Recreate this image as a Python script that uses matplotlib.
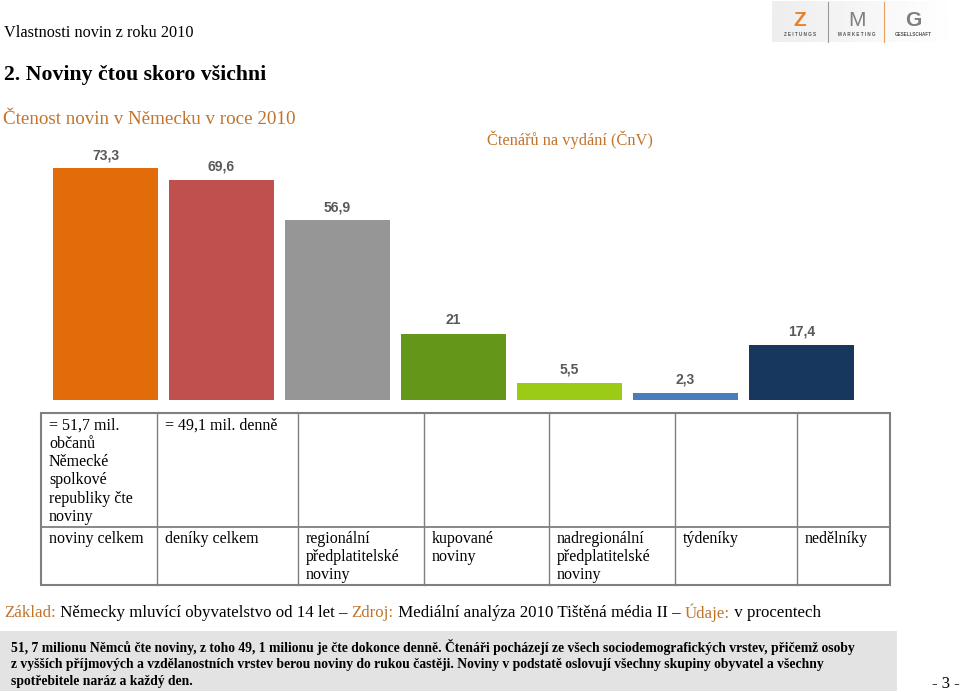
"""Čtenost novin v Německu 2010 (ZMG slide) recreated with matplotlib."""

import matplotlib

matplotlib.use("Agg")
import matplotlib.pyplot as plt
import numpy as np
from matplotlib.patches import Rectangle

# data
categories = [
    "noviny celkem",
    "deníky celkem",
    "regionální\npředplatitelské\nnoviny",
    "kupované\nnoviny",
    "nadregionální\npředplatitelské\nnoviny",
    "týdeníky",
    "nedělníky",
]
values = [73.3, 69.6, 56.9, 21.0, 5.5, 2.3, 17.4]
value_labels = ["73,3", "69,6", "56,9", "21", "5,5", "2,3", "17,4"]
bar_colors = ["#E36C0A", "#C0504D", "#969696", "#64961A", "#9BCB17", "#4A7EBB", "#17375E"]
top_row = [
    "= 51,7 mil.\nobčanů\nNěmecké\nspolkové\nrepubliky čte\nnoviny",
    "= 49,1 mil. denně",
    "", "", "", "", "",
]
col_edges = [41, 157, 298, 424, 549, 675, 797, 890]

ORANGE = "#C0742C"
SERIF = ["Liberation Serif", "DejaVu Serif"]
SANS = ["Liberation Sans", "DejaVu Sans"]

W, H = 960, 692
fig = plt.figure(figsize=(W / 100, H / 100), dpi=100)
ax = fig.add_axes([0, 0, 1, 1])
ax.set_xlim(0, W)
ax.set_ylim(H, 0)
ax.axis("off")


def px_axes(left, top, right, bottom):
    return fig.add_axes([left / W, 1 - bottom / H, (right - left) / W, (bottom - top) / H])


# header
ax.text(4, 33, "Vlastnosti novin z roku 2010", family=SERIF, fontsize=11.7, va="center")
ax.text(4, 75, "2. Noviny čtou skoro všichni", family=SERIF, fontsize=15.7, weight="bold", va="center")
ax.text(3, 120, "Čtenost novin v Německu v roce 2010", family=SERIF, fontsize=13.7,
        color=ORANGE, va="center")
ax.text(487, 140, "Čtenářů na vydání (ČnV)", family=SERIF, fontsize=11.8, color=ORANGE, va="center")

# logo
grad = np.linspace(0.93, 1.0, 100).reshape(1, -1)
ax.imshow(grad, cmap="gray", vmin=0, vmax=1, extent=(772, 958, 42, 1), aspect="auto", zorder=0)
ax.text(800, 20, "Z", family=SANS, fontsize=15, weight="bold", color="#E8812A", ha="center", va="center")
ax.text(857, 20, "M", family=SANS, fontsize=15, color="#7F7F7F", ha="center", va="center")
ax.text(913, 20, "G", family=SANS, fontsize=15, weight="bold", color="#7F7F7F", ha="center", va="center")
for lx, lab in [(800, "Z E I T U N G S"), (857, "M A R K E T I N G"), (913, "GESELLSCHAFT")]:
    ax.text(lx, 35, lab, family=SANS, fontsize=3.3, weight="bold", color="#555555", ha="center", va="center")
ax.plot([828, 828], [2, 42], color="#9A9A9A", lw=0.8)
ax.plot([884, 884], [2, 42], color="#E8A060", lw=0.8)

# bars
bax = px_axes(41, 160, 866, 400)
x = np.arange(len(values))
bax.bar(x, values, width=0.91, color=bar_colors)
bax.set_xlim(-0.556, 6.556)
bax.set_ylim(0, 240 / 3.16)
bax.axis("off")
for xi, v, lab in zip(x, values, value_labels):
    bax.annotate(lab, (xi, v), xytext=(0, 9.5), textcoords="offset points", ha="center",
                 va="center", family=SANS, fontsize=10, weight="bold", color="#595959")

# table
t_top, t_mid, t_bot = 413, 527, 585
lc = "#7F7F7F"
ax.add_patch(Rectangle((col_edges[0], t_top), col_edges[-1] - col_edges[0], t_bot - t_top,
                       fill=False, ec=lc, lw=1.5))
ax.plot([col_edges[0], col_edges[-1]], [t_mid, t_mid], color=lc, lw=1.3)
for ce in col_edges[1:-1]:
    ax.plot([ce, ce], [t_top, t_bot], color=lc, lw=1.0)
for i, (top_txt, cat) in enumerate(zip(top_row, categories)):
    cx = col_edges[i] + 8
    if top_txt:
        ax.text(cx, 418, top_txt, family=SERIF, fontsize=11.5, va="top", linespacing=1.18)
    ax.text(cx, 531, cat, family=SERIF, fontsize=11.5, va="top", linespacing=1.18)

# source line with coloured keywords
pieces = [
    ("Základ:", ORANGE), (" Německy mluvící obyvatelstvo od 14 let – ", "black"),
    ("Zdroj:", ORANGE), (" Mediální analýza 2010 Tištěná média II – ", "black"),
    ("Údaje:", ORANGE), (" v procentech", "black"),
]
renderer = fig.canvas.get_renderer()
cur = 4
inv = ax.transData.inverted()
for txt, col in pieces:
    t = ax.text(cur, 613, txt, family=SERIF, fontsize=12.2, color=col, va="center")
    bb = t.get_window_extent(renderer)
    cur = inv.transform((bb.x1, bb.y0))[0]

# summary box
ax.add_patch(Rectangle((0, 631), 897, 60, fc="#E3E3E3", ec="none"))
summary = ("51, 7 milionu Němců čte noviny, z toho 49, 1 milionu je čte dokonce denně. Čtenáři pocházejí ze všech "
           "sociodemografických vrstev, přičemž osoby\n"
           "z vyšších příjmových a vzdělanostních vrstev berou noviny do rukou častěji. Noviny v podstatě oslovují "
           "všechny skupiny obyvatel a všechny\n"
           "spotřebitele naráz a každý den.")
ax.text(11, 639, summary, family=SERIF, fontsize=9.8, weight="bold", va="top", linespacing=1.33)
ax.text(932, 684, "- 3 -", family=SERIF, fontsize=12, va="center")

fig.savefig("out.png", dpi=100)
